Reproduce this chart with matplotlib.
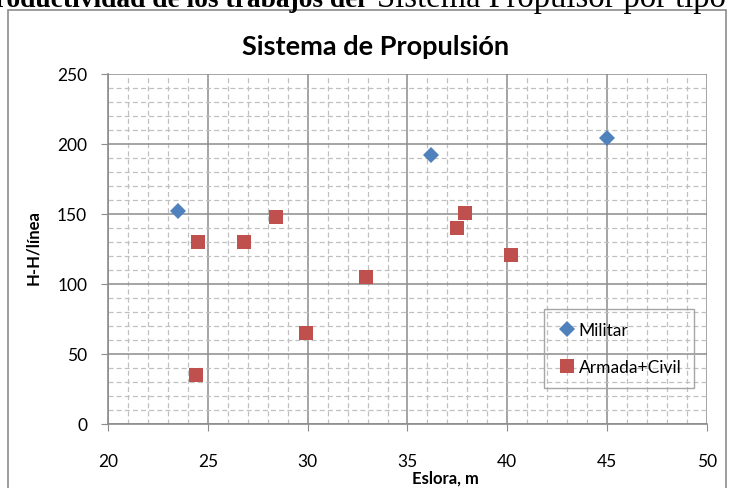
import matplotlib
matplotlib.use("Agg")
import matplotlib.pyplot as plt
from matplotlib.ticker import MultipleLocator
from matplotlib.patches import Rectangle

# Data
militar_x = [23.5, 36.2, 45.0]
militar_y = [152, 192, 204]
armada_x = [24.5, 24.4, 26.8, 28.4, 29.9, 32.9, 37.5, 37.9, 40.2]
armada_y = [130, 35, 130, 148, 65, 105, 140, 151, 121]
series_names = ["Militar", "Armada+Civil"]
title = "Sistema de Propulsión"
xlabel = "Eslora, m"
ylabel = "H-H/línea"
doc_bold = "Productividad de los trabajos del"
doc_regular = "Sistema Propulsor por tipo"

W, H = 735, 489
fig = plt.figure(figsize=(W / 100, H / 100), dpi=100)
fig.patch.set_facecolor("white")

def fx(px):
    return px / W

def fy(py):
    return 1 - py / H

FONT = "Lato"

# chart area border
fig.patches.append(Rectangle((fx(8), fy(600)), fx(726) - fx(8), fy(11) - fy(600),
                             transform=fig.transFigure, fill=False,
                             edgecolor="#8c8c8c", linewidth=1.2))

# cut document text at top (partially visible, as in the source page)
fig.text(fx(365), fy(7), doc_bold, ha="right", va="baseline",
         fontsize=19.8, family="Liberation Serif", fontweight="bold", color="black")
fig.text(fx(377), fy(7), doc_regular, ha="left", va="baseline",
         fontsize=23.5, family="Liberation Serif", color="black")

ax = fig.add_axes([fx(108), fy(425), fx(707) - fx(108), fy(75) - fy(425)])
ax.set_facecolor("none")

ax.set_xlim(20, 50)
ax.set_ylim(0, 250)
ax.xaxis.set_major_locator(MultipleLocator(5))
ax.xaxis.set_minor_locator(MultipleLocator(1))
ax.yaxis.set_major_locator(MultipleLocator(50))
ax.yaxis.set_minor_locator(MultipleLocator(10))

ax.grid(which="minor", color="#c0c0c0", linestyle=(0, (4, 2.5)), linewidth=0.9)
ax.grid(which="major", color="#8c8c8c", linestyle="-", linewidth=1.1)
ax.set_axisbelow(True)

for s in ["top", "right"]:
    ax.spines[s].set_visible(False)
for s in ["left", "bottom"]:
    ax.spines[s].set_color("#8c8c8c")
    ax.spines[s].set_linewidth(1.2)

ax.tick_params(which="major", direction="out", length=5, color="#8c8c8c",
               labelsize=12.5, labelcolor="black")
ax.tick_params(axis="x", which="major", pad=16)
ax.tick_params(axis="y", which="major", pad=10)
ax.tick_params(which="minor", length=0)
for lab in ax.get_xticklabels() + ax.get_yticklabels():
    lab.set_family(FONT)

ax.plot(militar_x, militar_y, linestyle="none", marker="D", markersize=8.3,
        color="#4f81bd", markeredgewidth=0, label=series_names[0], clip_on=False)
ax.plot(armada_x, armada_y, linestyle="none", marker="s", markersize=10.5,
        color="#c0504d", markeredgewidth=0, label=series_names[1], clip_on=False)

leg = ax.legend(loc="upper left", bbox_to_anchor=((544 - 108) / 599, (425 - 310) / 350),
                frameon=True, fancybox=False, framealpha=1, facecolor="none",
                edgecolor="#a6a6a6", prop={"family": FONT, "size": 12.5},
                handletextpad=0.05, handlelength=1.2, labelspacing=1.2,
                borderpad=0.75, borderaxespad=0)
leg.get_frame().set_linewidth(1.0)

fig.text(fx(376), fy(47), title, ha="center", va="center", fontsize=19.5,
         family=FONT, fontweight="bold")
fig.text(fx(445), fy(479), xlabel, ha="center", va="center", fontsize=12,
         family=FONT, fontweight="bold")
fig.text(fx(33), fy(248), ylabel, ha="center", va="center", fontsize=12,
         family=FONT, fontweight="bold", rotation=90)

fig.savefig("out.png", dpi=100)
